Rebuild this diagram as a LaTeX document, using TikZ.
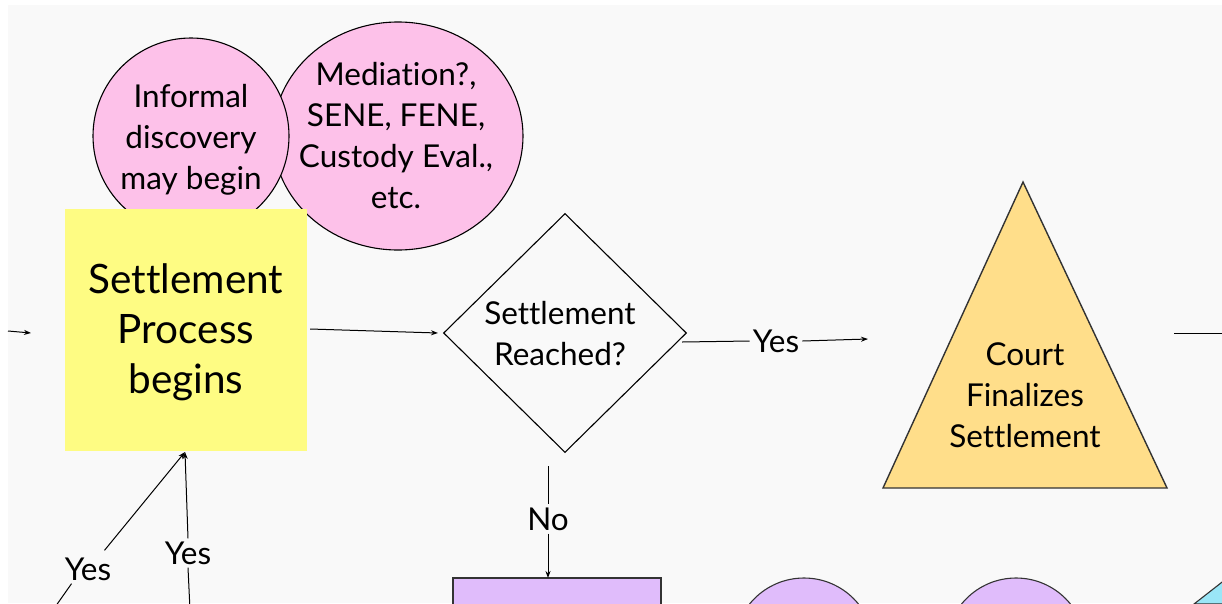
\documentclass[tikz,border=0pt]{standalone}
\usepackage{fontspec}
\setmainfont{Lato}[Ligatures={NoCommon,NoDiscretionary,NoContextual}]
\usetikzlibrary{shapes.geometric,arrows.meta}
\definecolor{paper}{HTML}{F9F9F9}
\definecolor{pinkfill}{HTML}{FDC1E9}
\definecolor{notefill}{HTML}{FEFC83}
\definecolor{goldfill}{HTML}{FFDE8A}
\definecolor{lilacfill}{HTML}{E0BCFB}
\definecolor{cyanfill}{HTML}{9AE6F7}
\begin{document}
\begin{tikzpicture}[x=1pt,y=-1pt,
  txt/.style={font=\fontsize{31.5}{41}\selectfont, align=center, inner sep=2pt},
  bigtxt/.style={font=\fontsize{40.5}{50}\selectfont, align=center, inner sep=0pt},
  bubble/.style={ellipse, draw=black, line width=1.1pt, fill=pinkfill, inner sep=0pt},
  lilac/.style={draw=black!80, line width=1.1pt, fill=lilacfill},
  conn/.style={draw=black, line width=1pt},
  arr/.style={conn, -{Stealth[length=7pt,width=5pt]}}
]
\useasboundingbox (0,0) rectangle (1222,603);
\clip (0,0) rectangle (1222,603);
\fill[white] (0,0) rectangle (1222,603);
\fill[paper] (8,5) rectangle (1222,603);

% pink bubbles above the note
\node[bubble, minimum width=250pt, minimum height=228pt] (med) at (398,136) {};
\node[txt] (medtxt) at (396,136) {Mediation?,\\SENE, FENE,\\Custody Eval.,\\etc.};
\node[bubble, minimum width=196pt, minimum height=196pt] (inf) at (191,136) {};
\node[txt] (inftxt) at (191,140) {Informal\\discovery\\may begin};

% yellow note
\node[fill=notefill, minimum width=242pt, minimum height=242pt, inner sep=0pt] (note) at (186,330) {};
\node[bigtxt] (notetxt) at (186,332) {Settlement\\Process\\begins};

% decision diamond
\node[diamond, draw=black, line width=1.1pt, minimum width=243pt, minimum height=239pt, inner sep=0pt] (dia) at (565,333) {};
\node[txt] (diatxt) at (560,334) {Settlement\\Reached?};

% triangle
\coordinate (tA) at (1023,182);
\coordinate (tB) at (1167,488);
\coordinate (tC) at (883,488);
\filldraw[fill=goldfill, draw=black!80, line width=1.4pt, line join=miter] (tA) -- (tB) -- (tC) -- cycle;
\node[txt] (tritxt) at (1025,395) {Court\\Finalizes\\Settlement};

% shapes along the bottom edge
\filldraw[lilac] (453,578) rectangle (661,640);
\coordinate (rectN) at (548,578);
\node[circle, lilac, minimum size=140pt, inner sep=0pt] (c1) at (804,648) {};
\node[circle, lilac, minimum size=140pt, inner sep=0pt] (c2) at (1016,648) {};
\filldraw[fill=cyanfill, draw=black!80, line width=1.1pt] (1194,604) -- (1226,579) -- (1226,604) -- cycle;

% connectors
\coordinate (inA) at (8,331);
\coordinate (inB) at (31,333);
\draw[arr] (inA) -- (inB);
\draw[arr] ([xshift=3pt,yshift=1pt]note.east) -- ([xshift=-5pt]dia.west);

\node[txt, inner sep=3pt] (yes1) at (776,341) {Yes};
\coordinate (yesEnd) at (868,339);
\draw[conn] ([shift={(-5pt,-9pt)}]dia.east) -- (yes1.west);
\draw[arr] (yes1.east) -- (yesEnd);

\coordinate (outA) at (1174,333);
\coordinate (outB) at (1230,333);
\draw[conn] (outA) -- (outB);

\node[txt, inner sep=3pt] (no) at (548,519) {No};
\draw[conn] ([shift={(-17pt,-13pt)}]dia.south) -- (no.north);
\draw[arr] (no.south) -- (rectN);

\node[txt, inner sep=3pt] (yesA) at (88,569) {Yes};
\node[txt, inner sep=3pt] (yesB) at (188,553) {Yes};
\coordinate (noteS) at (185,452);
\coordinate (yesAend) at (53,610);
\coordinate (yesBend) at (190,610);
\draw[arr] ([shift={(-10pt,4pt)}]yesA.north east) -- (noteS);
\draw[arr] (yesB.north) -- (noteS);
\draw[conn] ([shift={(10pt,0pt)}]yesA.south west) -- (yesAend);
\draw[conn] (yesB.south) -- (yesBend);
\end{tikzpicture}
\end{document}
